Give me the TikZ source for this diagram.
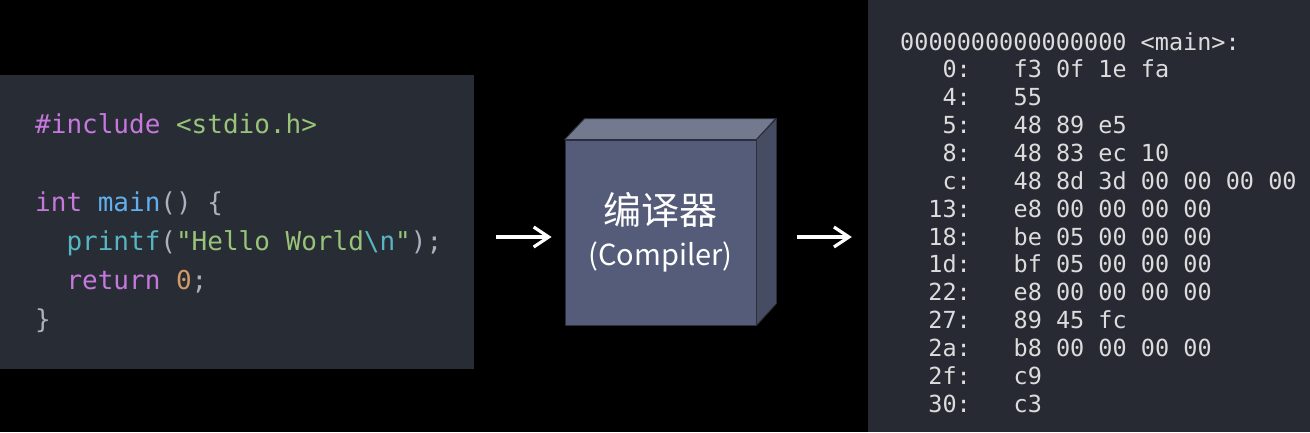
\documentclass[tikz,border=0pt]{standalone}
\usepackage{fontspec}
\usepackage{xcolor}
\usetikzlibrary{positioning, arrows.meta, calc}
\newfontfamily\codefont{DejaVu Sans Mono}
\newfontfamily\cjkfont{Noto Sans CJK SC}
\definecolor{panelbg}{HTML}{282C34}
\definecolor{dumpbg}{HTML}{272A33}
\definecolor{plaintxt}{HTML}{ABB2BF}
\definecolor{kwpurple}{HTML}{C678DD}
\definecolor{strgreen}{HTML}{98C379}
\definecolor{fnblue}{HTML}{61AFEF}
\definecolor{callcyan}{HTML}{56B6C2}
\definecolor{numorange}{HTML}{D19A66}
\definecolor{dumptxt}{HTML}{DCDCDC}
\definecolor{cubefront}{HTML}{545C79}
\definecolor{cubetop}{HTML}{737A8F}
\definecolor{cubeside}{HTML}{464C62}
\definecolor{cubeedge}{HTML}{2B2F3B}
\newcommand{\cKw}[1]{\textcolor{kwpurple}{#1}}
\newcommand{\cStr}[1]{\textcolor{strgreen}{#1}}
\newcommand{\cFun}[1]{\textcolor{fnblue}{#1}}
\newcommand{\cCall}[1]{\textcolor{callcyan}{#1}}
\newcommand{\cNum}[1]{\textcolor{numorange}{#1}}

\begin{document}
\begin{tikzpicture}[x=1pt, y=-1pt,
    panel/.style={rectangle, inner sep=0pt, draw=none},
    face/.style={draw=cubeedge, line width=0.9pt, line join=round},
    flow/.style={draw=white, line width=3.2pt, -{Straight Barb[length=15pt, width=20pt]}},
    dumpline/.style={inner sep=0pt, text=dumptxt, font=\codefont\fontsize{23.5}{28}\selectfont}]
  \fill[black] (0,0) rectangle (1310,432);
  \useasboundingbox (0,0) rectangle (1310,432);

  % source panel
  \node[panel, fill=panelbg, minimum width=474pt, minimum height=294pt] (src) at (237,222) {};
  \node[inner sep=0pt, anchor=north west, align=left, text=plaintxt,
        font=\codefont\fontsize{26}{39}\selectfont] (code) at (35,113) {%
    \cKw{\#include} \cStr{<stdio.h>}\\[39pt]
    \cKw{int} \cFun{main}() \{\\
    \mbox{~~}\cCall{printf}(\cStr{"Hello World}\cCall{\textbackslash n}\cStr{"});\\
    \mbox{~~}\cKw{return} \cNum{0};\\
    \}};

  % compiler cube
  \node[face, fill=cubefront, minimum width=191pt, minimum height=185pt, inner sep=0pt,
        align=center, text=white, font=\cjkfont\fontsize{29}{41}\selectfont] (cc) at (660.5,232.5) {%
    {\fontsize{38}{41}\selectfont 编译器}\\
    (Compiler)};
  \draw[face, fill=cubetop] (cc.north west) -- ++(20,-21) -- ++(191,0) -- (cc.north east) -- cycle;
  \draw[face, fill=cubeside] (cc.north east) -- ++(20,-21) -- ++(0,185) -- (cc.south east) -- cycle;

  % object dump panel
  \node[panel, fill=dumpbg, minimum width=442pt, minimum height=432pt] (dump) at (1089,216) {};
  \node[dumpline, anchor=base west] (hdr) at (900,50) {0000000000000000 <main>:};
  \foreach \addr/\bytes [count=\i] in {0/f3 0f 1e fa, 4/55, 5/48 89 e5, 8/48 83 ec 10,
      c/48 8d 3d 00 00 00 00, 13/e8 00 00 00 00, 18/be 05 00 00 00, 1d/bf 05 00 00 00,
      22/e8 00 00 00 00, 27/89 45 fc, 2a/b8 00 00 00 00, 2f/c9, 30/c3} {
    \node[dumpline, anchor=base east] (addr\i) at (971,50+\i*27.86) {\addr:};
    \node[dumpline, anchor=base west] (bytes\i) at (1013.4,50+\i*27.86) {\bytes};
  }

  % arrows
  \coordinate (lvl) at (0,237);
  \draw[flow] ($(src.east |- lvl)+(22,0)$) -- ($(cc.west |- lvl)+(-13,0)$);
  \draw[flow] ($(cc.east |- lvl)+(41,0)$) -- ($(dump.west |- lvl)+(-16,0)$);
\end{tikzpicture}
\end{document}
